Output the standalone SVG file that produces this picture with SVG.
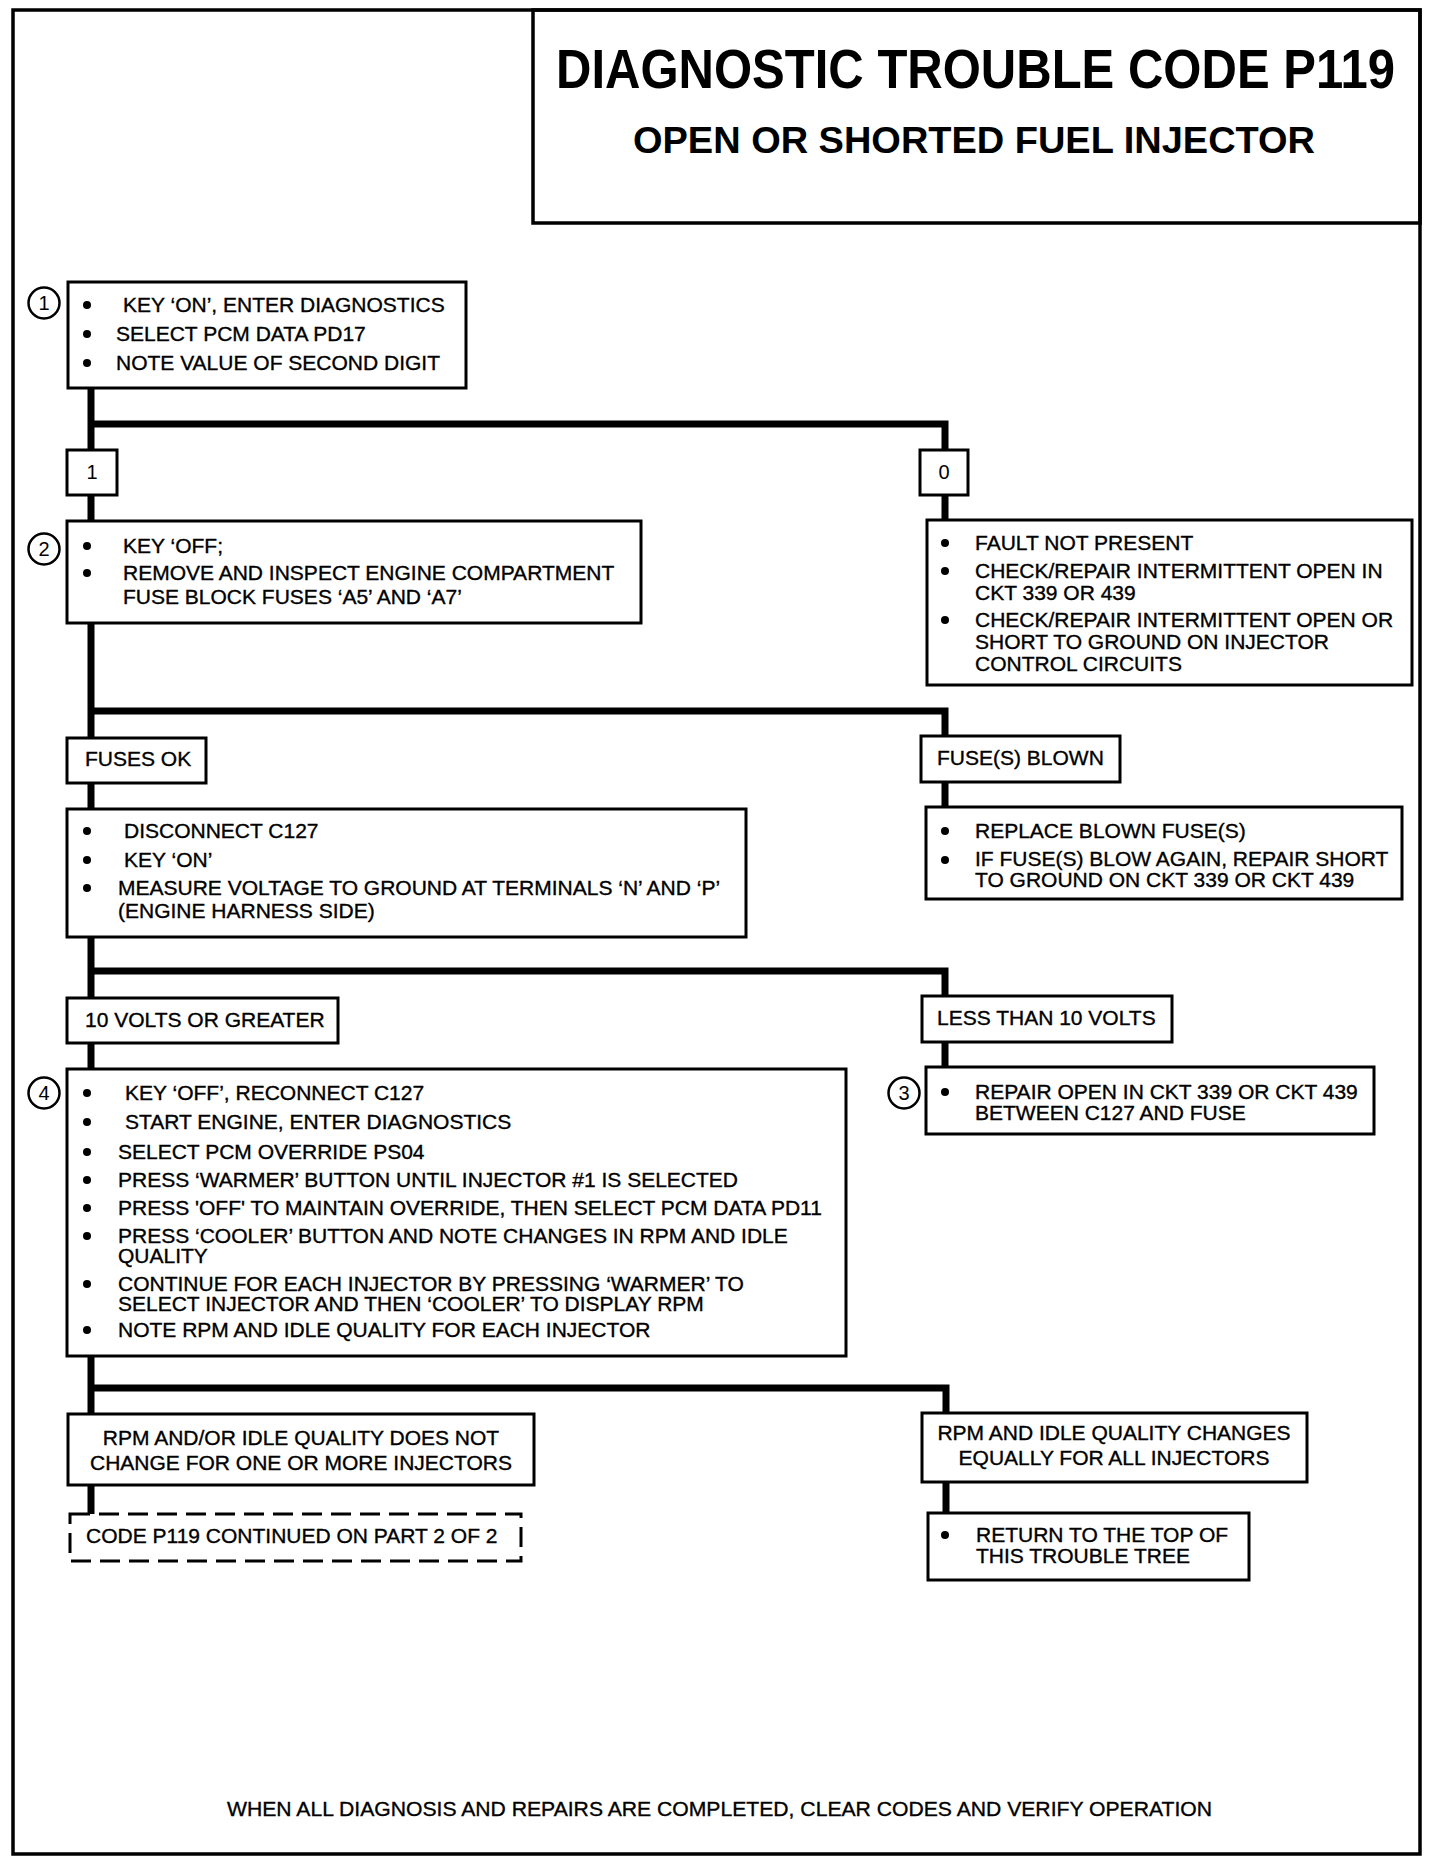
<svg xmlns="http://www.w3.org/2000/svg" width="1440" height="1862" viewBox="0 0 1440 1862">
<style>
.frame{fill:none;stroke:#000;stroke-width:3.5}
.box{fill:#fff;stroke:#000;stroke-width:3}
.dash{fill:#fff;stroke:#000;stroke-width:3;stroke-dasharray:20 9}
.conn{fill:none;stroke:#000;stroke-width:7;stroke-linejoin:miter}
.num{fill:#fff;stroke:#000;stroke-width:2.5}
text{font-family:"Liberation Sans",Arial,Helvetica,sans-serif;fill:#000}
.t{font-size:21px;stroke:#000;stroke-width:0.35}
.c{font-size:21px;text-anchor:middle;stroke:#000;stroke-width:0.35}
.n{font-size:20px;text-anchor:middle}
.title{font-size:48px;font-weight:bold}
.sub{font-size:37px;font-weight:bold}
</style>
<rect width="1440" height="1862" fill="#fff"/>
<rect class="frame" x="13" y="10" width="1407" height="1844"/>
<g id="title">
<rect class="frame" x="533" y="10" width="887" height="213"/>
<text class="title" transform="translate(556 88) scale(1 1.17)" x="0" y="0" textLength="839" lengthAdjust="spacingAndGlyphs">DIAGNOSTIC TROUBLE CODE P119</text>
<text class="sub" x="633" y="153" textLength="682" lengthAdjust="spacingAndGlyphs">OPEN OR SHORTED FUEL INJECTOR</text>
</g>
<g id="connectors">
<path class="conn" d="M91 388 V1514"/>
<path class="conn" d="M91 424 H945 V520"/>
<path class="conn" d="M91 711 H945 V807"/>
<path class="conn" d="M91 971 H945 V1067"/>
<path class="conn" d="M91 1388 H946 V1513"/>
</g>
<g id="step1">
<rect class="box" x="68" y="282" width="398" height="106"/>
<circle class="num" cx="44" cy="303" r="15.5"/>
<text class="n" x="44" y="310">1</text>
<circle cx="87" cy="305" r="4"/><circle cx="87" cy="334" r="4"/><circle cx="87" cy="363" r="4"/>
<text class="t" x="123" y="312">KEY ‘ON’, ENTER DIAGNOSTICS</text>
<text class="t" x="116" y="341">SELECT PCM DATA PD17</text>
<text class="t" x="116" y="370">NOTE VALUE OF SECOND DIGIT</text>
</g>
<g id="digit1">
<rect class="box" x="67" y="450" width="50" height="45"/>
<text class="n" x="92" y="479">1</text>
</g>
<g id="digit0">
<rect class="box" x="920" y="450" width="48" height="45"/>
<text class="n" x="944" y="479">0</text>
</g>
<g id="step2">
<rect class="box" x="67" y="521" width="574" height="102"/>
<circle class="num" cx="44" cy="549" r="15.5"/>
<text class="n" x="44" y="556">2</text>
<circle cx="87" cy="546" r="4"/><circle cx="87" cy="573" r="4"/>
<text class="t" x="123" y="553">KEY ‘OFF;</text>
<text class="t" x="123" y="580">REMOVE AND INSPECT ENGINE COMPARTMENT</text>
<text class="t" x="123" y="604">FUSE BLOCK FUSES ‘A5’ AND ‘A7’</text>
</g>
<g id="fault-not-present">
<rect class="box" x="927" y="520" width="485" height="165"/>
<circle cx="945" cy="543" r="4"/><circle cx="945" cy="571" r="4"/><circle cx="945" cy="620" r="4"/>
<text class="t" x="975" y="550">FAULT NOT PRESENT</text>
<text class="t" x="975" y="578">CHECK/REPAIR INTERMITTENT OPEN IN</text>
<text class="t" x="975" y="600">CKT 339 OR 439</text>
<text class="t" x="975" y="627">CHECK/REPAIR INTERMITTENT OPEN OR</text>
<text class="t" x="975" y="649">SHORT TO GROUND ON INJECTOR</text>
<text class="t" x="975" y="671">CONTROL CIRCUITS</text>
</g>
<g id="fuses-ok">
<rect class="box" x="67" y="738" width="139" height="45"/>
<text class="t" x="85" y="766">FUSES OK</text>
</g>
<g id="fuses-blown">
<rect class="box" x="921" y="736" width="199" height="46"/>
<text class="t" x="937" y="765">FUSE(S) BLOWN</text>
</g>
<g id="measure">
<rect class="box" x="67" y="809" width="679" height="128"/>
<circle cx="87" cy="831" r="4"/><circle cx="87" cy="860" r="4"/><circle cx="87" cy="888" r="4"/>
<text class="t" x="124" y="838">DISCONNECT C127</text>
<text class="t" x="124" y="867">KEY ‘ON’</text>
<text class="t" x="118" y="895">MEASURE VOLTAGE TO GROUND AT TERMINALS ‘N’ AND ‘P’</text>
<text class="t" x="118" y="918">(ENGINE HARNESS SIDE)</text>
</g>
<g id="replace-fuse">
<rect class="box" x="926" y="807" width="476" height="92"/>
<circle cx="945" cy="831" r="4"/><circle cx="945" cy="860" r="4"/>
<text class="t" x="975" y="838">REPLACE BLOWN FUSE(S)</text>
<text class="t" x="975" y="866">IF FUSE(S) BLOW AGAIN, REPAIR SHORT</text>
<text class="t" x="975" y="887">TO GROUND ON CKT 339 OR CKT 439</text>
</g>
<g id="ten-volts">
<rect class="box" x="67" y="998" width="271" height="45"/>
<text class="t" x="85" y="1027">10 VOLTS OR GREATER</text>
</g>
<g id="less-than">
<rect class="box" x="922" y="996" width="250" height="46"/>
<text class="t" x="937" y="1025">LESS THAN 10 VOLTS</text>
</g>
<g id="step3">
<rect class="box" x="926" y="1067" width="448" height="67"/>
<circle class="num" cx="904" cy="1093" r="15.5"/>
<text class="n" x="904" y="1100">3</text>
<circle cx="945" cy="1092" r="4"/>
<text class="t" x="975" y="1099">REPAIR OPEN IN CKT 339 OR CKT 439</text>
<text class="t" x="975" y="1120">BETWEEN C127 AND FUSE</text>
</g>
<g id="step4">
<rect class="box" x="67" y="1069" width="779" height="287"/>
<circle class="num" cx="44" cy="1093" r="15.5"/>
<text class="n" x="44" y="1100">4</text>
<circle cx="87" cy="1093" r="4"/><circle cx="87" cy="1122" r="4"/><circle cx="87" cy="1152" r="4"/><circle cx="87" cy="1180" r="4"/>
<circle cx="87" cy="1208" r="4"/><circle cx="87" cy="1236" r="4"/><circle cx="87" cy="1284" r="4"/><circle cx="87" cy="1330" r="4"/>
<text class="t" x="125" y="1100">KEY ‘OFF’, RECONNECT C127</text>
<text class="t" x="125" y="1129">START ENGINE, ENTER DIAGNOSTICS</text>
<text class="t" x="118" y="1159">SELECT PCM OVERRIDE PS04</text>
<text class="t" x="118" y="1187">PRESS ‘WARMER’ BUTTON UNTIL INJECTOR #1 IS SELECTED</text>
<text class="t" x="118" y="1215">PRESS 'OFF' TO MAINTAIN OVERRIDE, THEN SELECT PCM DATA PD11</text>
<text class="t" x="118" y="1243">PRESS ‘COOLER’ BUTTON AND NOTE CHANGES IN RPM AND IDLE</text>
<text class="t" x="118" y="1263">QUALITY</text>
<text class="t" x="118" y="1291">CONTINUE FOR EACH INJECTOR BY PRESSING ‘WARMER’ TO</text>
<text class="t" x="118" y="1311">SELECT INJECTOR AND THEN ‘COOLER’ TO DISPLAY RPM</text>
<text class="t" x="118" y="1337">NOTE RPM AND IDLE QUALITY FOR EACH INJECTOR</text>
</g>
<g id="no-change">
<rect class="box" x="68" y="1414" width="466" height="71"/>
<text class="c" x="301" y="1445">RPM AND/OR IDLE QUALITY DOES NOT</text>
<text class="c" x="301" y="1470">CHANGE FOR ONE OR MORE INJECTORS</text>
</g>
<g id="continued">
<rect class="dash" x="70" y="1514" width="451" height="47"/>
<text class="t" x="86" y="1543">CODE P119 CONTINUED ON PART 2 OF 2</text>
</g>
<g id="changes-equally">
<rect class="box" x="922" y="1413" width="385" height="69"/>
<text class="c" x="1114" y="1440">RPM AND IDLE QUALITY CHANGES</text>
<text class="c" x="1114" y="1465">EQUALLY FOR ALL INJECTORS</text>
</g>
<g id="return-top">
<rect class="box" x="928" y="1513" width="321" height="67"/>
<circle cx="945" cy="1535" r="4"/>
<text class="t" x="976" y="1542">RETURN TO THE TOP OF</text>
<text class="t" x="976" y="1563">THIS TROUBLE TREE</text>
</g>
<g id="footer">
<text class="t" x="227" y="1816" textLength="985" lengthAdjust="spacingAndGlyphs">WHEN ALL DIAGNOSIS AND REPAIRS ARE COMPLETED, CLEAR CODES AND VERIFY OPERATION</text>
</g>
</svg>
